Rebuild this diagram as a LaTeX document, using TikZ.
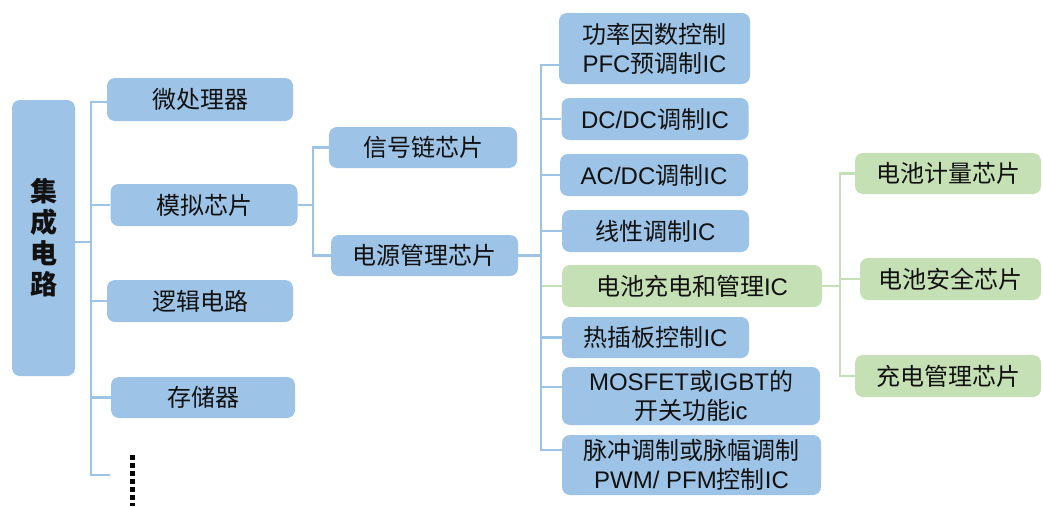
\documentclass[tikz,border=0pt]{standalone}
\usepackage{fontspec}
\setmainfont{Noto Sans CJK SC}
\newfontfamily\latf{Liberation Sans}
\newcommand\latn[1]{{\latf #1}}
\usetikzlibrary{calc}
\definecolor{bfill}{HTML}{9DC3E6}
\definecolor{gfill}{HTML}{C5E0B4}
\definecolor{txt}{HTML}{111111}
\begin{document}
\begin{tikzpicture}[x=1pt,y=-1pt,
  box/.style={rounded corners=8pt, inner sep=0pt, align=center, text=txt,
              font=\fontsize{24}{29}\selectfont},
  bbox/.style={box, fill=bfill},
  gbox/.style={box, fill=gfill},
  bl/.style={draw=bfill, line width=2.4pt},
  gl/.style={draw=gfill, line width=2.4pt}]
\useasboundingbox (0,0) rectangle (1043,506);

% level 0
\node[bbox, minimum width=63pt, minimum height=276pt,
      font=\fontsize{27}{31}\selectfont\bfseries] (ic) at (43.5,238) {集\\成\\电\\路};

% level 1
\node[bbox, minimum width=186pt, minimum height=43pt] (wcl) at (200,99.5) {微处理器};
\node[bbox, minimum width=187pt, minimum height=42pt] (mn) at (204,205) {模拟芯片};
\node[bbox, minimum width=186pt, minimum height=42pt] (lj) at (200,301) {逻辑电路};
\node[bbox, minimum width=184pt, minimum height=41pt] (cc) at (203,397.5) {存储器};
\coordinate (moreb) at (110,475);
\coordinate (dt) at (132,455);

% level 2
\node[bbox, minimum width=188pt, minimum height=41pt] (xh) at (423,147.5) {信号链芯片};
\node[bbox, minimum width=187pt, minimum height=41pt] (dy) at (424.5,255.5) {电源管理芯片};

% level 3
\node[bbox, minimum width=191pt, minimum height=71pt] (pfc) at (654.5,48.5) {功率因数控制\\\latn{PFC}预调制\latn{IC}};
\node[bbox, minimum width=187pt, minimum height=42pt] (dcdc) at (655,119) {\latn{DC/DC}调制\latn{IC}};
\node[bbox, minimum width=188pt, minimum height=42pt] (acdc) at (654,175) {\latn{AC/DC}调制\latn{IC}};
\node[bbox, minimum width=187pt, minimum height=42pt] (xx) at (655.5,231) {线性调制\latn{IC}};
\node[gbox, minimum width=260pt, minimum height=42pt] (bat) at (692,286) {电池充电和管理\latn{IC}};
\node[bbox, minimum width=187pt, minimum height=41pt] (rcb) at (655.5,337.5) {热插板控制\latn{IC}};
\node[bbox, minimum width=258pt, minimum height=58pt] (mos) at (691,396) {\latn{MOSFET}或\latn{IGBT}的\\开关功能\latn{ic}};
\node[bbox, minimum width=259pt, minimum height=60pt] (pwm) at (691.5,465) {脉冲调制或脉幅调制\\\latn{PWM/ PFM}控制\latn{IC}};

% level 4
\node[gbox, minimum width=186pt, minimum height=41pt] (jl) at (948,173.5) {电池计量芯片};
\node[gbox, minimum width=181pt, minimum height=42pt] (aq) at (950.5,279) {电池安全芯片};
\node[gbox, minimum width=186pt, minimum height=42pt] (cd) at (948,376) {充电管理芯片};

% trunks
\coordinate (t1) at (91,0);
\coordinate (t2) at (313,0);
\coordinate (t3) at (541,0);
\coordinate (t4) at (840,0);

% attachment points
\coordinate (ice) at ([yshift=-4pt]ic.east);
\coordinate (wclw) at ([yshift=-2.5pt]wcl.west);
\coordinate (pfcw) at ([yshift=-16.5pt]pfc.west);
\coordinate (pwmw) at ([yshift=15pt]pwm.west);
\coordinate (mosw) at ([yshift=9pt]mos.west);

% level 0 -> 1
\draw[bl] (ice) -- (t1 |- ice);
\draw[bl] (wclw) -- (t1 |- wclw) -- (t1 |- moreb) -- (moreb);
\draw[bl] (t1 |- mn.west) -- (mn.west);
\draw[bl] (t1 |- lj.west) -- (lj.west);
\draw[bl] (t1 |- cc.west) -- (cc.west);
\draw[black, line width=5pt, dash pattern=on 5pt off 3pt] (dt) -- ++(0,51);

% level 1 -> 2
\draw[bl] (mn.east) -- (t2 |- mn.east);
\draw[bl] (xh.west) -- (t2 |- xh.west) -- (t2 |- dy.west) -- (dy.west);

% level 2 -> 3
\draw[gl] (t3 |- bat.west) -- (bat.west);
\draw[bl] (dy.east) -- (t3 |- dy.east);
\draw[bl] (pfcw) -- (t3 |- pfcw) -- (t3 |- pwmw) -- (pwmw);
\draw[bl] (t3 |- dcdc.west) -- (dcdc.west);
\draw[bl] (t3 |- acdc.west) -- (acdc.west);
\draw[bl] (t3 |- xx.west) -- (xx.west);
\draw[bl] (t3 |- rcb.west) -- (rcb.west);
\draw[bl] (t3 |- mosw) -- (mosw);

% level 3 -> 4
\draw[gl] (bat.east) -- (t4 |- bat.east);
\draw[gl] (jl.west) -- (t4 |- jl.west) -- (t4 |- cd.west) -- (cd.west);
\draw[gl] (t4 |- aq.west) -- (aq.west);
\end{tikzpicture}
\end{document}
